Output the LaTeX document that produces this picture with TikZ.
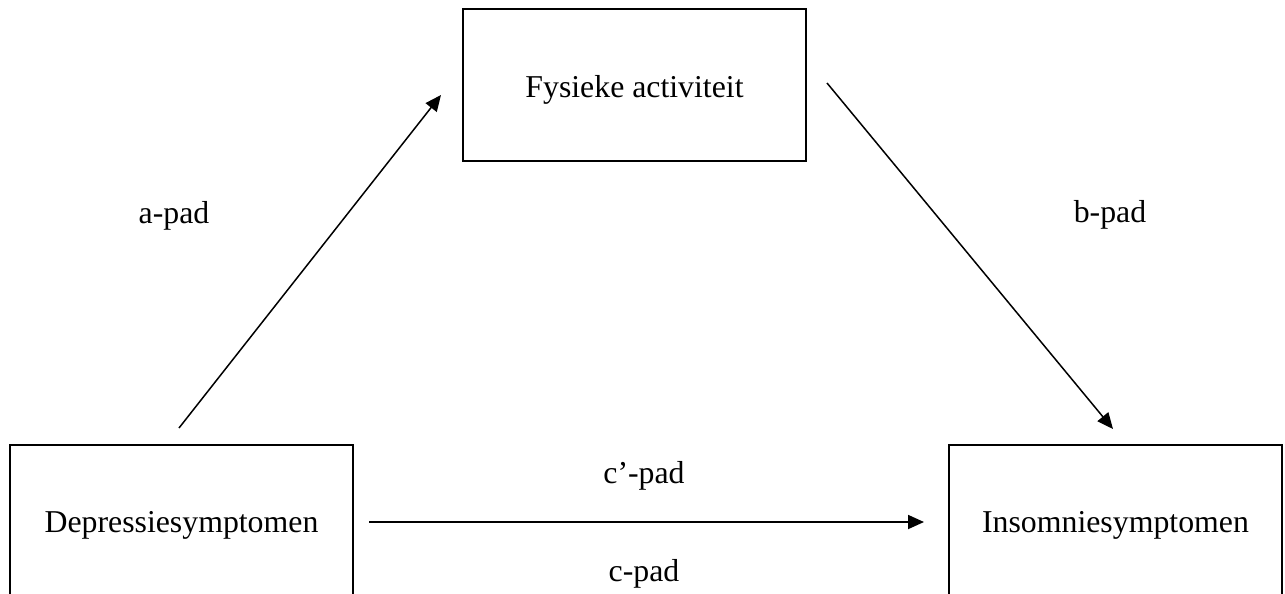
\documentclass[tikz,border=0pt]{standalone}
\usepackage{fontspec}
\setmainfont{Liberation Serif}
\usetikzlibrary{positioning,arrows.meta}
\tikzset{var/.style={draw,line width=2pt,minimum width=343pt,minimum height=152pt,inner sep=0pt,font=\fontsize{31.8}{38}\selectfont}}
\tikzset{pad/.style={-{Triangle[length=16pt,width=14pt]},line width=1.5pt}}
\tikzset{lbl/.style={font=\fontsize{31.8}{38}\selectfont}}

\begin{document}
\begin{tikzpicture}[x=1pt,y=-1pt]
\useasboundingbox (0,0) rectangle (1285,594);
\fill[white] (0,0) rectangle (1285,594);
\clip (0,0) rectangle (1285,594);
\node[var,text height=31pt,text depth=7pt] (fa) at (634.5,85) {Fysieke activiteit};
\node[var,minimum height=160pt] (dep) at (181.5,525) {Depressiesymptomen};
\node[var,minimum width=333pt,minimum height=160pt] (ins) at (1115.5,525) {Insomniesymptomen};

\draw[pad] ([xshift=-2.5pt,yshift=16pt]dep.north) -- ([xshift=-21pt,yshift=-10pt]fa.west);
\draw[pad] ([xshift=20pt,yshift=2pt]fa.east) -- ([xshift=-2.5pt,yshift=15pt]ins.north);
\draw[pad,line width=1.8pt] ([xshift=15pt,yshift=3pt]dep.east) -- ([xshift=-24pt,yshift=3pt]ins.west);

\node[lbl] (apad) at (174,216) {a-pad};
\node[lbl] (bpad) at (1110,215) {b-pad};
\node[lbl] (cpadx) at (644,476) {c’-pad};
\node[lbl] (cpad) at (644,574) {c-pad};
\end{tikzpicture}
\end{document}
